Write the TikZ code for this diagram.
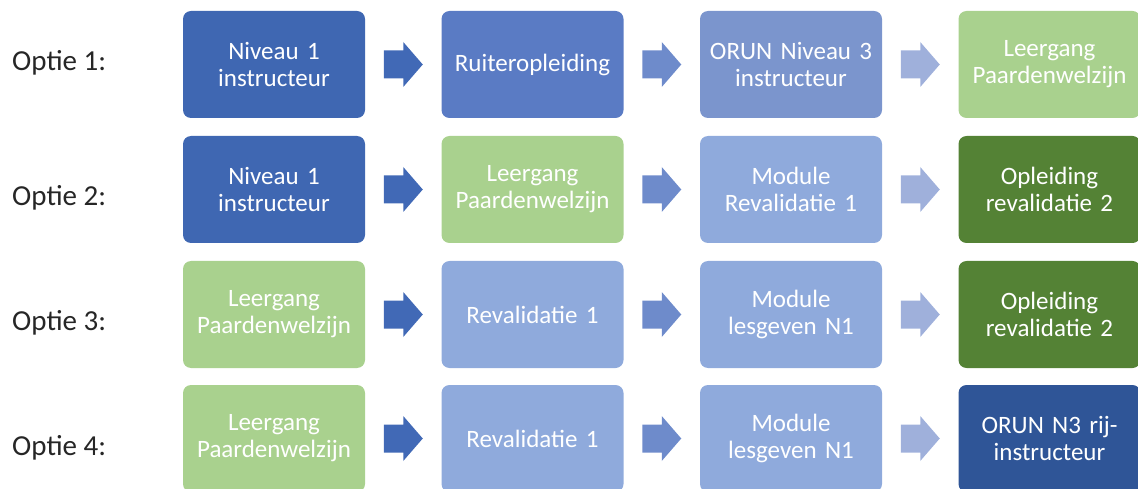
\documentclass[tikz,border=0pt]{standalone}
\usepackage{fontspec}
\setmainfont{Carlito}
\usetikzlibrary{positioning,calc}
\definecolor{blueDark}{HTML}{3F67B2}
\definecolor{bluePlain}{HTML}{5A7BC4}
\definecolor{blueMid}{HTML}{7B95CD}
\definecolor{blueLight}{HTML}{8FAADC}
\definecolor{blueNavy}{HTML}{2F5597}
\definecolor{greenLight}{HTML}{A9D18E}
\definecolor{greenDark}{HTML}{548235}
\definecolor{arrowDark}{HTML}{4169B6}
\definecolor{arrowMid}{HTML}{6E8BCB}
\definecolor{arrowLight}{HTML}{9FB0DB}
\definecolor{labelGrey}{HTML}{262626}
\newcommand{\stepArrow}[3]{%%
  \coordinate (mid) at ($(#2.east)!0.5!(#3.west)$);
  \fill[#1] ([shift={(-19.5,14)}]mid) -- ++(19.5,0) -- ++(0,8.5)
    -- ++(19.5,-22.5) -- ++(-19.5,-22.5) -- ++(0,8.5) -- ++(-19.5,0) -- cycle;
}
\newcommand{\optionLabel}[3]{%%
  \node[labelStyle] (#1) at (12,#2) {#3};
}

\begin{document}
\begin{tikzpicture}[%%
  x=1pt,y=1pt,
  node distance=76.5pt,
  boxStyle/.style={rounded corners=8pt,text width=182pt,minimum height=107pt,
    inner sep=0pt,outer sep=0pt,align=center,text=white,
    font=\fontsize{25}{27}\selectfont},%%
  labelStyle/.style={anchor=base west,inner sep=0pt,text=labelGrey,
    font=\fontsize{29}{32}\selectfont}
]
\useasboundingbox (0,0) rectangle (1138,-489);
%%
%% Option 1.
\optionLabel{opt1}{-71}{Optie 1:}
\node[boxStyle,fill=blueDark] (r1a) at (274,-64.5) {Niveau 1\\instructeur};
\node[boxStyle,fill=bluePlain,right=of r1a] (r1b) {Ruiteropleiding};
\node[boxStyle,fill=blueMid,right=of r1b] (r1c) {ORUN Niveau 3\\instructeur};
\node[boxStyle,fill=greenLight,right=of r1c] (r1d) {Leergang\\Paardenwelzijn};
\stepArrow{arrowDark}{r1a}{r1b}
\stepArrow{arrowMid}{r1b}{r1c}
\stepArrow{arrowLight}{r1c}{r1d}
%%
%% Option 2.
\optionLabel{opt2}{-205.5}{Optie 2:}
\node[boxStyle,fill=blueDark] (r2a) at (274,-189.5) {Niveau 1\\instructeur};
\node[boxStyle,fill=greenLight,right=of r2a] (r2b) {Leergang\\Paardenwelzijn};
\node[boxStyle,fill=blueLight,right=of r2b] (r2c) {Module\\Revalidatie 1};
\node[boxStyle,fill=greenDark,right=of r2c] (r2d) {Opleiding\\revalidatie 2};
\stepArrow{arrowDark}{r2a}{r2b}
\stepArrow{arrowMid}{r2b}{r2c}
\stepArrow{arrowLight}{r2c}{r2d}
%%
%% Option 3.
\optionLabel{opt3}{-330.5}{Optie 3:}
\node[boxStyle,fill=greenLight] (r3a) at (274,-314.5) {Leergang\\Paardenwelzijn};
\node[boxStyle,fill=blueLight,right=of r3a] (r3b) {Revalidatie 1};
\node[boxStyle,fill=blueLight,right=of r3b] (r3c) {Module\\lesgeven N1};
\node[boxStyle,fill=greenDark,right=of r3c] (r3d) {Opleiding\\revalidatie 2};
\stepArrow{arrowDark}{r3a}{r3b}
\stepArrow{arrowMid}{r3b}{r3c}
\stepArrow{arrowLight}{r3c}{r3d}
%%
%% Option 4.
\optionLabel{opt4}{-455.5}{Optie 4:}
\node[boxStyle,fill=greenLight] (r4a) at (274,-438.5) {Leergang\\Paardenwelzijn};
\node[boxStyle,fill=blueLight,right=of r4a] (r4b) {Revalidatie 1};
\node[boxStyle,fill=blueLight,right=of r4b] (r4c) {Module\\lesgeven N1};
\node[boxStyle,fill=blueNavy,right=of r4c] (r4d) {ORUN N3 rij-\\instructeur};
\stepArrow{arrowDark}{r4a}{r4b}
\stepArrow{arrowMid}{r4b}{r4c}
\stepArrow{arrowLight}{r4c}{r4d}
\end{tikzpicture}
\end{document}
